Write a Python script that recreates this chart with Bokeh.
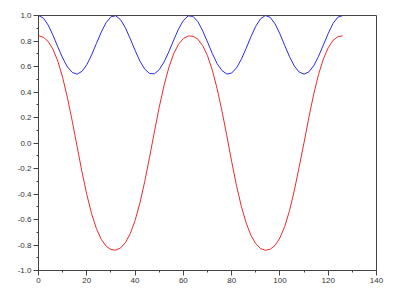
from bokeh.plotting import figure
from bokeh.models import Range1d, SingleIntervalTicker, PrintfTickFormatter
from bokeh.embed import file_html
from bokeh.resources import INLINE

x_vals = [0, 2, 4, 6, 8, 10, 12, 14, 16, 18, 20, 22, 24, 26, 28, 30, 32, 34, 36, 38,
          40, 42, 44, 46, 48, 50, 52, 54, 56, 58, 60, 62, 64, 66, 68, 70, 72, 74, 76, 78,
          80, 82, 84, 86, 88, 90, 92, 94, 96, 98, 100, 102, 104, 106, 108, 110, 112, 114,
          116, 118, 120, 122, 124, 126]
red_vals = [0.841, 0.830, 0.796, 0.735, 0.642, 0.514, 0.354, 0.169, -0.029, -0.225,
            -0.404, -0.555, -0.672, -0.756, -0.809, -0.836, -0.840, -0.823, -0.781, -0.711,
            -0.608, -0.471, -0.302, -0.112, 0.087, 0.280, 0.452, 0.593, 0.700, 0.775,
            0.819, 0.839, 0.838, 0.814, 0.764, 0.685, 0.571, 0.425, 0.250, 0.058,
            -0.145, -0.333, -0.496, -0.626, -0.725, -0.790, -0.828, -0.841, -0.833, -0.803,
            -0.744, -0.654, -0.529, -0.369, -0.185, 0.004, 0.202, 0.383, 0.538, 0.659,
            0.747, 0.805, 0.834, 0.841]
blue_vals = [1.000, 0.980, 0.925, 0.845, 0.754, 0.667, 0.596, 0.553, 0.540, 0.562,
             0.614, 0.691, 0.781, 0.870, 0.944, 0.990, 0.998, 0.967, 0.903, 0.818,
             0.727, 0.643, 0.580, 0.545, 0.543, 0.575, 0.635, 0.716, 0.807, 0.894,
             0.961, 0.997, 0.993, 0.952, 0.880, 0.792, 0.701, 0.622, 0.568, 0.541,
             0.549, 0.589, 0.656, 0.742, 0.834, 0.916, 0.975, 1.000, 0.985, 0.934,
             0.856, 0.764, 0.676, 0.602, 0.556, 0.540, 0.558, 0.606, 0.680, 0.769,
             0.859, 0.938, 0.987, 0.999]

p = figure(width=403, height=298, output_backend="svg", toolbar_location=None,
           x_range=Range1d(0, 140), y_range=Range1d(-1, 1),
           min_border_left=38, min_border_right=27, min_border_top=15, min_border_bottom=28)

p.line(x_vals, blue_vals, line_color="#2a2aee", line_width=1)
p.line(x_vals, red_vals, line_color="#ee2a2a", line_width=1)

p.xgrid.visible = False
p.ygrid.visible = False
p.outline_line_color = "#444444"
p.outline_line_width = 1
p.background_fill_color = "white"
p.border_fill_color = "white"

p.xaxis.ticker = SingleIntervalTicker(interval=20, num_minor_ticks=2)
p.yaxis.ticker = SingleIntervalTicker(interval=0.2, num_minor_ticks=2)
p.yaxis.formatter = PrintfTickFormatter(format="%.1f")

for ax in (p.xaxis, p.yaxis):
    ax.axis_line_color = "#444444"
    ax.major_tick_line_color = "#444444"
    ax.minor_tick_line_color = "#444444"
    ax.major_tick_out = 5
    ax.major_tick_in = 0
    ax.minor_tick_out = 2
    ax.minor_tick_in = 0
    ax.major_label_text_font = "Liberation Sans"
    ax.major_label_text_font_size = "8px"
    ax.major_label_text_color = "#333333"
    ax.major_label_standoff = 2

open("out.html", "w").write(file_html(p, INLINE))
